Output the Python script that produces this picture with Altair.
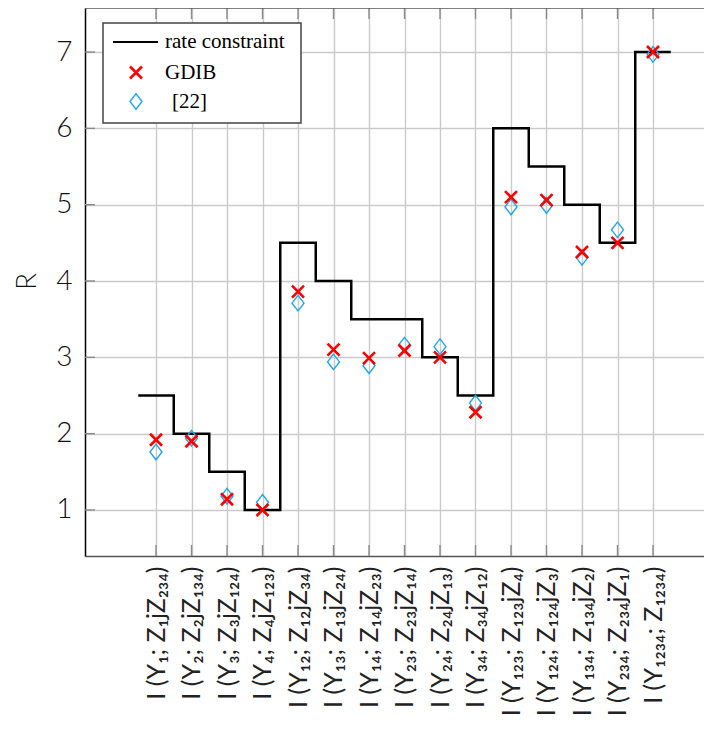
import json
import altair as alt
import pandas as pd

# ---- data ----
labels = [
    "I (Y₁; Z₁jZ₂₃₄)",
    "I (Y₂; Z₂jZ₁₃₄)",
    "I (Y₃; Z₃jZ₁₂₄)",
    "I (Y₄; Z₄jZ₁₂₃)",
    "I (Y₁₂; Z₁₂jZ₃₄)",
    "I (Y₁₃; Z₁₃jZ₂₄)",
    "I (Y₁₄; Z₁₄jZ₂₃)",
    "I (Y₂₃; Z₂₃jZ₁₄)",
    "I (Y₂₄; Z₂₄jZ₁₃)",
    "I (Y₃₄; Z₃₄jZ₁₂)",
    "I (Y₁₂₃; Z₁₂₃jZ₄)",
    "I (Y₁₂₄; Z₁₂₄jZ₃)",
    "I (Y₁₃₄; Z₁₃₄jZ₂)",
    "I (Y₂₃₄; Z₂₃₄jZ₁)",
    "I (Y₁₂₃₄; Z₁₂₃₄)",
]
rate_constraint = [2.5, 2.0, 1.5, 1.0, 4.5, 4.0, 3.5, 3.5, 3.0, 2.5, 6.0, 5.5, 5.0, 4.5, 7.0]
gdib = [1.92, 1.90, 1.14, 1.00, 3.86, 3.10, 2.99, 3.09, 3.00, 2.28, 5.10, 5.06, 4.38, 4.50, 7.00]
ref22 = [1.76, 1.94, 1.18, 1.10, 3.71, 2.94, 2.89, 3.16, 3.14, 2.40, 4.97, 4.99, 4.31, 4.67, 6.97]
y_ticks = [1, 2, 3, 4, 5, 6, 7]
legend_names = ["rate constraint", "GDIB", "[22]"]

positions = list(range(1, len(labels) + 1))
df = pd.DataFrame({"x": positions, "y": gdib, "ref22": ref22})

# step line: each constraint spans [pos-0.5, pos+0.5]
step_x = [p - 0.5 for p in positions] + [positions[-1] + 0.5]
step_y = rate_constraint + [rate_constraint[-1]]
step_df = pd.DataFrame({"x": step_x, "y": step_y})

W, H = 619, 548
XMIN = -1.0
XMAX = XMIN + W / 35.5
xscale = alt.Scale(domain=[XMIN, XMAX], nice=False, zero=False)
yscale = alt.Scale(domain=[0.397, 7.577], nice=False, zero=False)

label_expr = json.dumps(labels, ensure_ascii=False) + "[datum.value - 1]"

FONT = "Lato"
GRID = "#cacaca"
FRAME = "#555"

xaxis = alt.Axis(
    values=positions, labelExpr=label_expr, labelAngle=-90, labelFontSize=25,
    labelFont=FONT, labelFontWeight="normal", labelColor="#222", labelPadding=10,
    labelOverlap=False, labelFlush=False, labelBound=False,
    ticks=False, tickSize=0, domain=True, domainColor=FRAME, domainWidth=1.5,
    grid=True, gridColor=GRID, gridWidth=1.4, title=None,
)
yaxis = alt.Axis(
    values=y_ticks, labelFontSize=28, labelFont=FONT, labelFontWeight=300,
    labelColor="#111", labelPadding=13, ticks=False, tickSize=0,
    domain=True, domainColor="#000", domainWidth=1.5,
    grid=True, gridColor=GRID, gridWidth=1.4,
    title="R", titleFont=FONT, titleFontSize=28, titleFontWeight=300,
    titleColor="#111", titleX=-50, titleY=273, titleAngle=-90,
    titleAlign="center", titleBaseline="alphabetic",
)


def X(field="x"):
    return alt.X(f"{field}:Q", scale=xscale, axis=xaxis)


def Y(field="y"):
    return alt.Y(f"{field}:Q", scale=yscale, axis=yaxis)


# small inward ticks along the frame
ytick_df = pd.DataFrame({"y": y_ticks})
yticks = alt.Chart(ytick_df).mark_rule(color="#8a8a8a", strokeWidth=1.4).encode(
    y=Y(), x=alt.value(0), x2=alt.value(10)
)
xtick_df = pd.DataFrame({"x": positions})
xticks_b = alt.Chart(xtick_df).mark_rule(color="#8a8a8a", strokeWidth=1.4).encode(
    x=X(), y=alt.value(H), y2=alt.value(H - 11)
)
xticks_t = alt.Chart(xtick_df).mark_rule(color="#8a8a8a", strokeWidth=1.4).encode(
    x=X(), y=alt.value(0), y2=alt.value(11)
)

# top frame line (plot continues past the right edge, so no right spine)
one = pd.DataFrame({"k": [0]})
top_frame = alt.Chart(one).mark_rule(color=FRAME, strokeWidth=1.5).encode(
    x=alt.value(0), x2=alt.value(W), y=alt.value(0)
)

step = alt.Chart(step_df).mark_line(
    color="black", strokeWidth=2.5, interpolate="step-after"
).encode(x=X(), y=Y())

CROSS = "M-1,-1L1,1M-1,1L1,-1"
DIAMOND = "M0,-1.3L1,0L0,1.3L-1,0Z"
RED = "#ff0000"
BLUE = "#1ea8ef"

diamonds = alt.Chart(df).mark_point(
    shape=DIAMOND, filled=False, color=BLUE, size=144, strokeWidth=1.4, opacity=1
).encode(x=X(), y=Y("ref22"))
crosses = alt.Chart(df).mark_point(
    shape=CROSS, filled=False, color=RED, size=144, strokeWidth=2.6, opacity=1
).encode(x=X(), y=Y())

# ---- legend box (drawn as decoration) ----
leg_box = alt.Chart(one).mark_rect(
    fill="white", stroke="#444", strokeWidth=1.5
).encode(x=alt.value(18), x2=alt.value(216), y=alt.value(15), y2=alt.value(115))
leg_line = alt.Chart(one).mark_rule(color="black", strokeWidth=2.2).encode(
    x=alt.value(28), x2=alt.value(73), y=alt.value(34)
)
leg_cross = alt.Chart(one).mark_point(
    shape=CROSS, filled=False, color=RED, size=144, strokeWidth=2.6, opacity=1
).encode(x=alt.value(51), y=alt.value(64.5))
leg_diam = alt.Chart(one).mark_point(
    shape=DIAMOND, filled=False, color=BLUE, size=144, strokeWidth=1.4, opacity=1
).encode(x=alt.value(51), y=alt.value(93.5))

leg_texts = []
for name, xx, yy in zip(legend_names, [80, 80, 87], [34, 64.5, 93.5]):
    leg_texts.append(
        alt.Chart(pd.DataFrame({"t": [name]})).mark_text(
            align="left", baseline="middle", font="Liberation Serif",
            fontSize=21, color="black"
        ).encode(text="t:N", x=alt.value(xx), y=alt.value(yy))
    )

chart = alt.layer(
    yticks, xticks_b, xticks_t, top_frame, step, diamonds, crosses,
    leg_box, leg_line, leg_cross, leg_diam, *leg_texts
).properties(
    width=W, height=H,
    autosize=alt.AutoSizeParams(type="none"),
    padding={"left": 77, "top": 0, "right": 0, "bottom": 168},
    background="white",
).configure_view(
    stroke=None
)

chart.save("out.html", embed_options={"renderer": "svg", "actions": False})
